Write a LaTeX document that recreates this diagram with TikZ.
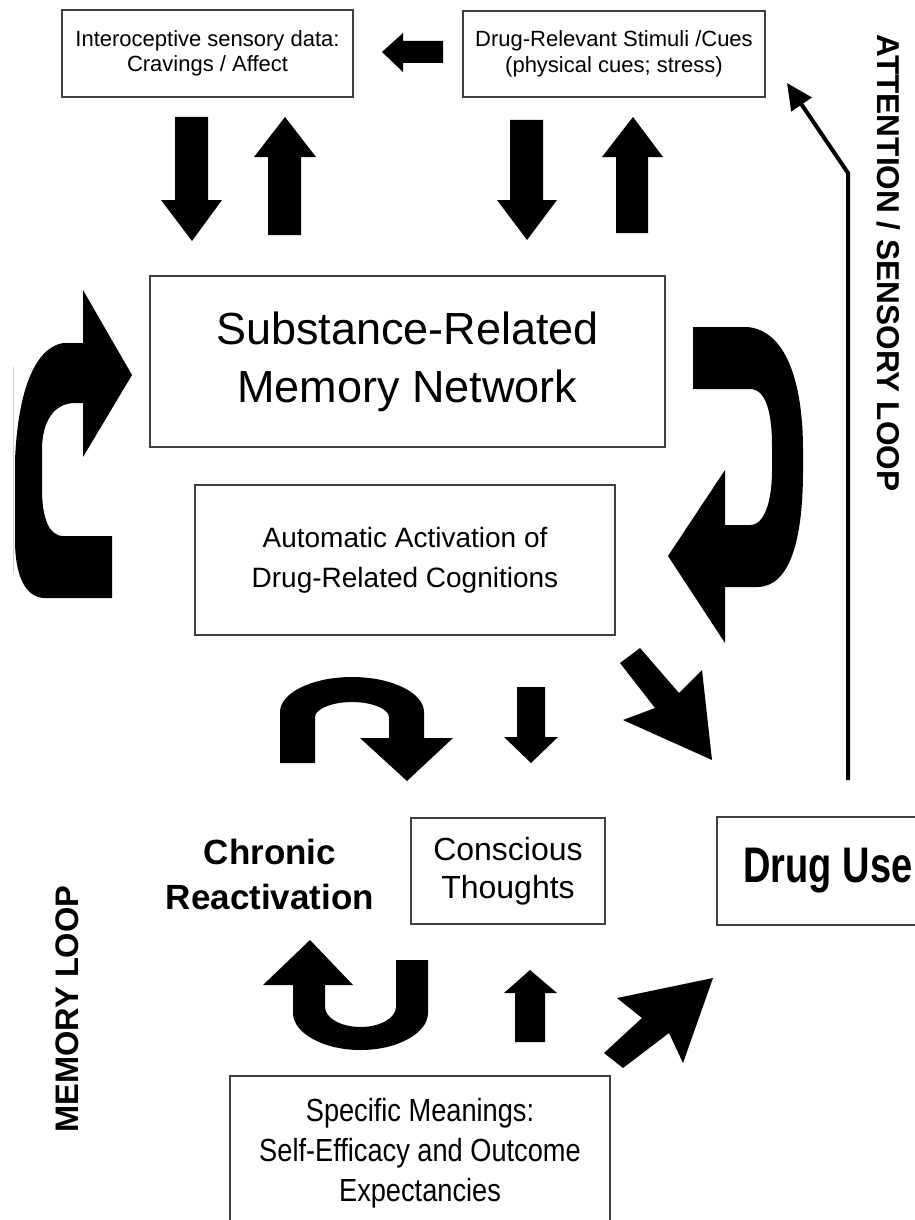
\documentclass[tikz,border=0pt]{standalone}
\usepackage{fontspec}
\setmainfont{Liberation Sans}
\newfontfamily\narrowfont[FakeStretch=0.85]{Liberation Sans}
\newfontfamily\narrowboldfont[FakeStretch=0.76]{Liberation Sans}
\usetikzlibrary{arrows.meta}
\tikzset{
  box/.style={draw=black!75, line width=1.2pt, inner sep=0pt, align=center},
  plain/.style={inner sep=0pt, align=center},
  blk/.style={fill=black, draw=none}
}
\begin{document}
\begin{tikzpicture}[x=1pt,y=-1pt]
\path[use as bounding box] (0,0) rectangle (914,1220);

% ---------- boxes ----------
\node[box, minimum width=291pt, minimum height=87pt, font={\fontsize{22}{25}\selectfont}] (intero) at (207.5,53.5) {Interoceptive sensory data:\\Cravings / Affect};
\node[box, minimum width=302pt, minimum height=86pt, font={\fontsize{22}{26}\selectfont}] (stim) at (614,54) {Drug-Relevant Stimuli /Cues\\(physical cues; stress)};
\node[box, minimum width=515pt, minimum height=171pt, font={\fontsize{45}{58}\selectfont}] (mem) at (407.5,361.5) {Substance-Related\\Memory Network};
\node[box, minimum width=420pt, minimum height=150pt, font={\fontsize{28}{40}\selectfont}] (auto) at (405,560) {Automatic Activation of\\Drug-Related Cognitions};
\node[box, minimum width=194pt, minimum height=106pt, font={\fontsize{32}{38}\selectfont}] (consc) at (508,871) {Conscious\\Thoughts};
\node[box, minimum width=222pt, minimum height=108pt, font={\narrowboldfont\bfseries\fontsize{50}{56}\selectfont}] (use) at (828,871) {Drug Use};
\node[box, minimum width=380pt, minimum height=154pt, font={\narrowfont\fontsize{32}{40}\selectfont}] (spec) at (420,1153) {Specific Meanings:\\Self-Efficacy and Outcome\\Expectancies};

% ---------- free labels ----------
\node[plain, font={\bfseries\fontsize{35}{45}\selectfont}] (chron) at (270,874.5) {Chronic\\Reactivation};
\node[plain, anchor=base, rotate=-90, font={\bfseries\fontsize{31.6}{36}\selectfont}] (attlbl) at (877,263) {ATTENTION / SENSORY LOOP};
\node[plain, anchor=base, rotate=90, font={\bfseries\fontsize{32.6}{36}\selectfont}] (memlbl) at (78,1009) {MEMORY LOOP};

% ---------- attention / sensory loop connector ----------
\coordinate (attS) at (848,780);
\coordinate (attB) at (848,173);
\coordinate (attT) at (787,83);
\draw[line width=4pt, -{Triangle[length=26pt,width=24pt]}] (attS) -- (attB) -- (attT);

% faint scan line
\draw[gray!40, line width=1pt] (13,367) -- (13,573);

% ---------- block arrows ----------
% small left arrow between top boxes
\fill[blk] (443,41) -- (443,63) -- (403,63) -- (403,72) -- (382,52) -- (403,33) -- (403,41) -- cycle;
% left pair
\fill[blk] (175,117) -- (208,117) -- (208,200) -- (222,200) -- (192,241) -- (161,200) -- (175,200) -- cycle;
\fill[blk] (268,235) -- (301,235) -- (301,157) -- (316,157) -- (285,117) -- (254,157) -- (268,157) -- cycle;
% right pair
\fill[blk] (510,120) -- (543,120) -- (543,200) -- (557,200) -- (527,240) -- (497,200) -- (510,200) -- cycle;
\fill[blk] (616,233) -- (648,233) -- (648,157) -- (663,157) -- (633,117) -- (602,157) -- (616,157) -- cycle;

% big left curved arrow
\fill[blk] (83,290) -- (132,375) -- (83,457) -- (83,403) -- (75,403)
  .. controls (55,403) and (42,420) .. (42,450) -- (42,490)
  .. controls (42,515) and (48,536) .. (63,536) -- (112,536) -- (112,598) -- (45,598)
  .. controls (25,598) and (15,575) .. (15,540) -- (15,460)
  .. controls (18,390) and (35,348) .. (63,343) -- (83,343) -- cycle;

% big right curved arrow
\fill[blk] (693,327) -- (747,327)
  .. controls (785,330) and (803,380) .. (803,450) -- (803,470)
  .. controls (803,540) and (790,587) .. (757,587) -- (725,587) -- (725,643) -- (668,556)
  -- (725,470) -- (725,525) -- (750,525)
  .. controls (765,525) and (772,500) .. (772,470) -- (772,446)
  .. controls (772,410) and (765,389) .. (750,389) -- (693,389) -- cycle;

% arch arrow (upper middle)
\fill[blk] (280,763) -- (280,712)
  .. controls (280,693) and (312,677) .. (352,677)
  .. controls (392,677) and (424,693) .. (424,712) -- (424,738) -- (453,738) -- (407,781)
  -- (360,738) -- (389,738) -- (389,717)
  .. controls (389,709) and (372,702) .. (352,702)
  .. controls (332,702) and (315,709) .. (315,717) -- (315,763) -- cycle;

% small down arrow
\fill[blk] (517,687) -- (545,687) -- (545,737) -- (558,737) -- (531,763) -- (504,737) -- (517,737) -- cycle;

% diagonal down-right arrow
\fill[blk] (620,663) -- (655,708) -- (623,720) -- (712,760) -- (702,670) -- (679,693) -- (640,648) -- cycle;

% U arrow (lower middle)
\fill[blk] (263,985) -- (310,940) -- (353,985) -- (325,985) -- (325,1007)
  .. controls (325,1018) and (341,1027) .. (360.5,1027)
  .. controls (380,1027) and (396,1018) .. (396,1007) -- (396,960) -- (428,960) -- (428,1013)
  .. controls (428,1033) and (397.6,1050) .. (360.5,1050)
  .. controls (323.4,1050) and (293,1033) .. (293,1013) -- (293,985) -- cycle;

% small up arrow
\fill[blk] (515,1042) -- (545,1042) -- (545,993) -- (557,993) -- (530,970) -- (504,993) -- (515,993) -- cycle;

% diagonal up-right arrow
\fill[blk] (604,1053) -- (642,1018) -- (617,998) -- (713,978) -- (683,1063) -- (669,1033) -- (623,1068) -- cycle;

\end{tikzpicture}
\end{document}
